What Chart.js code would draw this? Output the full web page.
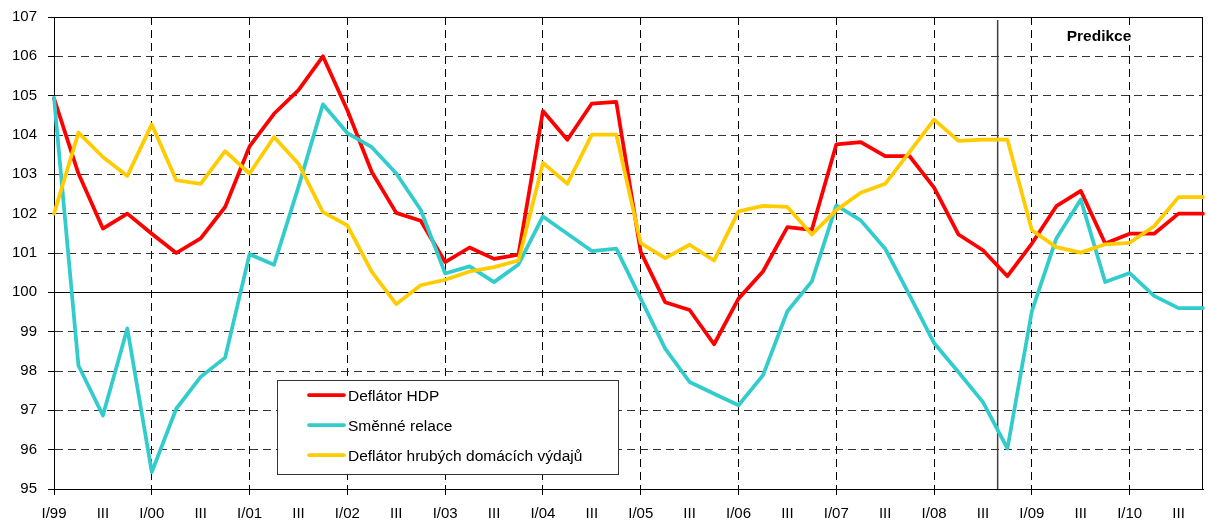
<!DOCTYPE html>
<html>
<head>
<meta charset="utf-8">
<script src="https://cdn.jsdelivr.net/npm/chart.js@4.4.0/dist/chart.umd.min.js"></script>
<style>
html,body{margin:0;padding:0;background:#fff;}
#wrap{width:1208px;height:524px;position:relative;}
</style>
</head>
<body>
<div id="wrap"><canvas id="c" width="1208" height="524"></canvas></div>
<script>
// ---- data ----
const quarters = [
  "I/99","II/99","III/99","IV/99","I/00","II/00","III/00","IV/00",
  "I/01","II/01","III/01","IV/01","I/02","II/02","III/02","IV/02",
  "I/03","II/03","III/03","IV/03","I/04","II/04","III/04","IV/04",
  "I/05","II/05","III/05","IV/05","I/06","II/06","III/06","IV/06",
  "I/07","II/07","III/07","IV/07","I/08","II/08","III/08","IV/08",
  "I/09","II/09","III/09","IV/09","I/10","II/10","III/10","IV/10"
];
const xTickLabels = [
  "I/99","III","I/00","III","I/01","III","I/02","III","I/03","III","I/04","III",
  "I/05","III","I/06","III","I/07","III","I/08","III","I/09","III","I/10","III"
];
const deflatorHDP = [
  104.93,103.02,101.62,102.00,101.49,101.00,101.37,102.17,
  103.71,104.54,105.14,106.00,104.63,103.06,102.02,101.82,
  100.77,101.14,100.85,100.96,104.61,103.88,104.80,104.84,
  101.03,99.75,99.55,98.68,99.84,100.53,101.66,101.59,
  103.76,103.82,103.46,103.46,102.66,101.47,101.07,100.41,
  101.24,102.19,102.58,101.24,101.49,101.49,102.00,102.00
];
const smenneRelace = [
  104.95,98.14,96.87,99.08,95.43,97.04,97.85,98.34,
  100.97,100.70,102.68,104.78,104.05,103.69,103.02,102.10,
  100.48,100.66,100.26,100.71,101.93,101.49,101.05,101.11,
  99.84,98.57,97.72,97.42,97.13,97.89,99.52,100.28,
  102.21,101.83,101.11,99.92,98.71,97.97,97.21,96.03,
  99.52,101.37,102.36,100.26,100.49,99.91,99.60,99.60
];
const deflatorHDV = [
  102.00,104.06,103.44,102.96,104.27,102.85,102.76,103.59,
  103.02,103.95,103.27,102.04,101.70,100.52,99.70,100.18,
  100.32,100.53,100.64,100.81,103.29,102.76,104.01,104.01,
  101.25,100.87,101.21,100.81,102.06,102.20,102.17,101.47,
  102.09,102.53,102.76,103.57,104.39,103.85,103.88,103.88,
  101.58,101.15,101.01,101.22,101.26,101.68,102.42,102.42
];
const seriesNames = ["Deflátor HDP","Směnné relace","Deflátor hrubých domácích výdajů"];
const seriesColors = ["#FF0000","#33CCCC","#FFCC00"];
const predictionStart = 38.6;   // quarter index where the forecast begins
const predictionLabel = "Predikce";
const yMin = 95, yMax = 107, yStep = 1, baseLine = 100;

// ---- drawing helpers ----
const FONT = "'Liberation Sans', Arial, Helvetica, sans-serif";

const decorations = {
  id: 'decorations',
  beforeDatasetsDraw(chart) {
    const {ctx, chartArea: a, scales: {x, y}} = chart;
    ctx.save();
    // solid 100 line
    const y100 = Math.round(y.getPixelForValue(baseLine)) + 0.5;
    ctx.strokeStyle = '#000';
    ctx.lineWidth = 1;
    ctx.setLineDash([]);
    ctx.beginPath();
    ctx.moveTo(a.left, y100);
    ctx.lineTo(a.right, y100);
    ctx.stroke();
    // frame top and right
    const t = Math.round(a.top) + 0.5, r = Math.round(a.right) - 0.5;
    ctx.beginPath();
    ctx.moveTo(a.left, t);
    ctx.lineTo(r, t);
    ctx.lineTo(r, a.bottom);
    ctx.stroke();
    // prediction divider
    const xp = x.getPixelForValue(predictionStart);
    ctx.strokeStyle = '#404040';
    ctx.lineWidth = 1.5;
    ctx.beginPath();
    ctx.moveTo(xp, a.top + 3);
    ctx.lineTo(xp, a.bottom);
    ctx.stroke();
    ctx.restore();
  },
  afterDraw(chart) {
    const {ctx} = chart;
    ctx.save();
    // legend box
    ctx.fillStyle = '#fff';
    ctx.fillRect(277.5, 380.5, 341, 94);
    ctx.strokeStyle = '#333';
    ctx.lineWidth = 1;
    ctx.strokeRect(277.5, 380.5, 341, 94);
    chart.data.datasets.forEach((ds, i) => {
      const cy = 395 + i * 30;
      ctx.strokeStyle = ds.borderColor;
      ctx.lineWidth = 3.75;
      ctx.lineCap = 'round';
      ctx.beginPath();
      ctx.moveTo(309, cy);
      ctx.lineTo(344, cy);
      ctx.stroke();
      ctx.fillStyle = '#000';
      ctx.font = '15.5px ' + FONT;
      ctx.textAlign = 'left';
      ctx.textBaseline = 'alphabetic';
      ctx.fillText(ds.label, 348, cy + 5.5);
    });
    // prediction label
    ctx.font = 'bold 15.5px ' + FONT;
    const w = ctx.measureText(predictionLabel).width;
    const cx = 1099;
    ctx.fillStyle = '#fff';
    ctx.fillRect(cx - w / 2 - 2, 25, w + 4, 20);
    ctx.fillStyle = '#000';
    ctx.textAlign = 'center';
    ctx.textBaseline = 'alphabetic';
    ctx.fillText(predictionLabel, cx, 40.5);
    ctx.restore();
  }
};

const dataArrays = [deflatorHDP, smenneRelace, deflatorHDV];
const orders = [3, 2, 1];

new Chart(document.getElementById('c'), {
  type: 'line',
  data: {
    labels: quarters,
    datasets: dataArrays.map((d, i) => ({
      label: seriesNames[i],
      data: d,
      borderColor: seriesColors[i],
      backgroundColor: seriesColors[i],
      order: orders[i],
      fill: false
    }))
  },
  options: {
    responsive: false,
    animation: false,
    layout: {padding: {top: 17, right: 5, left: 0, bottom: 0}},
    elements: {
      line: {borderWidth: 3.75, tension: 0, borderJoinStyle: 'round', borderCapStyle: 'round'},
      point: {radius: 0, hoverRadius: 0}
    },
    plugins: {legend: {display: false}, tooltip: {enabled: false}},
    scales: {
      x: {
        type: 'category',
        offset: false,
        grid: {
          offset: false,
          color: c => (c.index % 4 === 0 ? '#000' : 'rgba(0,0,0,0)'),
          lineWidth: 1,
          tickLength: 6,
          tickColor: c => (c.index % 4 === 0 ? '#000' : 'rgba(0,0,0,0)'),
          tickBorderDash: []
        },
        border: {display: true, color: '#000', width: 1, dash: [8, 5]},
        ticks: {
          autoSkip: false, maxRotation: 0, minRotation: 0, padding: 10,
          color: '#000', font: {family: FONT, size: 15},
          callback: (v, i) => (i % 2 === 0 ? xTickLabels[i / 2] : '')
        },
        afterFit: s => { s.height = 35; s.paddingLeft = 0; s.paddingRight = 0; }
      },
      y: {
        min: yMin, max: yMax,
        grid: {color: '#333', lineWidth: 1, tickLength: 6, tickColor: '#000', tickBorderDash: []},
        border: {display: true, color: '#000', width: 1, dash: [8, 5]},
        ticks: {stepSize: yStep, padding: 11, color: '#000', font: {family: FONT, size: 15}},
        afterFit: s => { s.width = 54; s.paddingTop = 0; s.paddingBottom = 0; }
      }
    }
  },
  plugins: [decorations]
});
</script>
</body>
</html>
